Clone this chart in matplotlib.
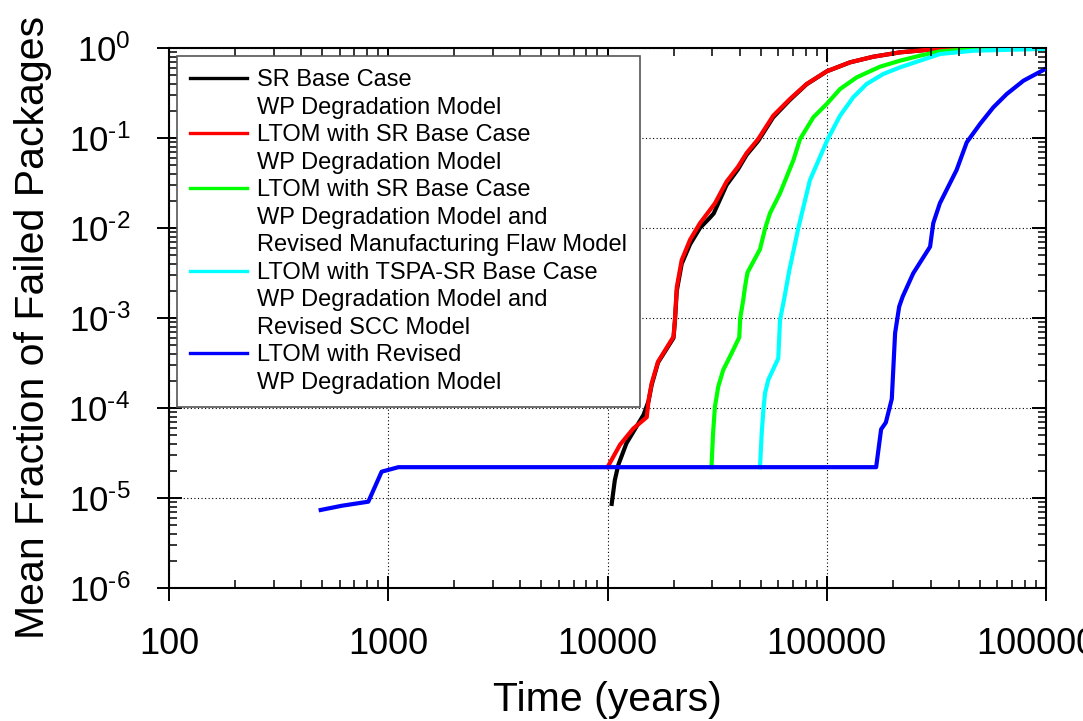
import matplotlib
matplotlib.use("Agg")
import matplotlib.pyplot as plt
from matplotlib.lines import Line2D
from matplotlib.ticker import LogLocator, NullFormatter

plt.rcParams["font.family"] = ["Liberation Sans", "DejaVu Sans"]
plt.rcParams["mathtext.fontset"] = "custom"
plt.rcParams["mathtext.rm"] = "Liberation Sans"
plt.rcParams["mathtext.it"] = "Liberation Sans:italic"
plt.rcParams["mathtext.bf"] = "Liberation Sans:bold"

# ---- data: time (years) vs mean fraction of failed packages ----
t_sr_base = [10450, 10800, 11200, 12200, 14600, 15400, 15900, 17000, 20000, 20300,
             20700, 21800, 23800, 26400, 29300, 30500, 34900, 39400, 43100, 48700,
             57000, 67900, 80900, 100000, 127700, 163000, 216000, 296000, 435000, 700000,
             1000000]
f_sr_base = [8.6e-6, 1.58e-5, 2.33e-5, 4.05e-5, 8.4e-5, 1.2e-4, 1.8e-4, 3.2e-4, 6.0e-4, 9.2e-4,
             2.0e-3, 4.0e-3, 6.6e-3, 1.0e-2, 1.3e-2, 1.45e-2, 3.0e-2, 4.5e-2, 6.5e-2, 9.3e-2,
             0.17, 0.265, 0.395, 0.55, 0.693, 0.80, 0.895, 0.96, 0.99, 1.0,
             1.0]

t_ltom_sr = [10000, 11400, 13100, 15100, 15400, 15900, 17000, 20000, 20300, 20700,
             21800, 23800, 26400, 29300, 30900, 34900, 39400, 43100, 48700, 57000,
             67900, 80900, 100000, 127700, 163000, 216000, 296000, 435000, 700000, 1000000]
f_ltom_sr = [2.2e-5, 3.9e-5, 5.9e-5, 7.9e-5, 1.23e-4, 1.88e-4, 3.27e-4, 6.2e-4, 9.5e-4, 2.2e-3,
             4.4e-3, 7.4e-3, 1.13e-2, 1.58e-2, 1.88e-2, 3.27e-2, 4.8e-2, 6.8e-2, 9.75e-2, 0.177,
             0.271, 0.398, 0.551, 0.693, 0.80, 0.895, 0.96, 0.99, 1.0, 1.0]

t_ltom_mf = [29800, 30300, 30900, 32000, 33700, 36800, 39900, 40300, 41600, 42400,
             43500, 49600, 52300, 55100, 61200, 70500, 75500, 86900, 100000, 115000,
             137000, 175000, 216000, 266000, 329000, 467000, 700000, 1000000]
f_ltom_mf = [2.2e-5, 5.2e-5, 1.03e-4, 1.73e-4, 2.64e-4, 4.05e-4, 6.1e-4, 1.0e-3, 1.58e-3, 2.23e-3,
             3.2e-3, 5.8e-3, 9.8e-3, 1.46e-2, 2.43e-2, 5.7e-2, 0.097, 0.17, 0.239, 0.35,
             0.472, 0.62, 0.723, 0.822, 0.918, 0.975, 0.995, 1.0]

t_ltom_scc = [49600, 50500, 51400, 52300, 54100, 60100, 61200, 63800, 67500, 68500,
              74200, 83800, 101000, 115000, 132000, 152000, 181000, 216000, 266000, 329000,
              467000, 940000, 1000000]
f_ltom_scc = [2.2e-5, 5.2e-5, 9.5e-5, 1.46e-4, 2.05e-4, 3.56e-4, 9.5e-4, 1.58e-3, 3.4e-3, 4.0e-3,
              1.0e-2, 3.4e-2, 0.097, 0.177, 0.283, 0.398, 0.514, 0.61, 0.723, 0.858,
              0.933, 0.975, 0.978]

t_ltom_rev = [492, 614, 811, 933, 1112, 168000, 177000, 186000, 198000, 205000,
              214000, 222000, 248000, 296000, 306000, 328000, 391000, 435000, 500000, 575000,
              662000, 789000, 1000000]
f_ltom_rev = [7.36e-6, 8.2e-6, 9.1e-6, 1.96e-5, 2.2e-5, 2.2e-5, 5.8e-5, 6.9e-5, 1.26e-4, 6.8e-4,
              1.34e-3, 1.73e-3, 3.14e-3, 6.2e-3, 1.13e-2, 1.88e-2, 4.41e-2, 0.0895, 0.143, 0.219,
              0.308, 0.433, 0.59]

series_labels = [
    "SR Base Case\nWP Degradation Model",
    "LTOM with SR Base Case\nWP Degradation Model",
    "LTOM with SR Base Case\nWP Degradation Model and\nRevised Manufacturing Flaw Model",
    "LTOM with TSPA-SR Base Case\nWP Degradation Model and\nRevised SCC Model",
    "LTOM with Revised\nWP Degradation Model",
]
series_colors = ["#000000", "#ff0000", "#00ff00", "#00ffff", "#0000ff"]

x_ticks = [100, 1000, 10000, 100000, 1000000]
x_ticklabels = ["100", "1000", "10000", "100000", "1000000"]
y_ticks = [1e-6, 1e-5, 1e-4, 1e-3, 1e-2, 1e-1, 1e0]
y_exponents = ["-6", "-5", "-4", "-3", "-2", "-1", "0"]
y_ticklabels = [r"$\mathregular{10^{\text{%s}}}$" % e for e in y_exponents]

# ---- figure ----
fig = plt.figure(figsize=(10.83, 7.21), dpi=100)
rect = [169 / 1083, 133 / 721, 877 / 1083, 540 / 721]
ax = fig.add_axes(rect)
ax.set_xscale("log")
ax.set_yscale("log")

series = [(t_sr_base, f_sr_base), (t_ltom_sr, f_ltom_sr), (t_ltom_mf, f_ltom_mf),
          (t_ltom_scc, f_ltom_scc), (t_ltom_rev, f_ltom_rev)]
for (t, f), c in zip(series, series_colors):
    ax.plot(t, f, color=c, lw=3.0, solid_joinstyle="round", zorder=3)

ax.set_xlim(100, 1e6)
ax.set_ylim(1e-6, 1)
ax.set_xticks(x_ticks, x_ticklabels, fontsize=26)
ax.set_yticks(y_ticks, y_ticklabels, fontsize=25)
ax.xaxis.set_minor_locator(LogLocator(base=10, subs=range(2, 10), numticks=20))
ax.yaxis.set_minor_locator(LogLocator(base=10, subs=range(2, 10), numticks=20))
ax.xaxis.set_minor_formatter(NullFormatter())
ax.yaxis.set_minor_formatter(NullFormatter())

ax.tick_params(which="major", direction="inout", length=18, width=1.4,
               top=False, right=False, pad=19)
ax.tick_params(which="minor", direction="in", length=6, width=1.1,
               top=False, right=False)
ax.grid(True, which="major", color="black", lw=0.8, linestyle=(0, (1, 2.2)))
for s in ax.spines.values():
    s.set_linewidth(1.5)

ax.set_ylabel("Mean Fraction of Failed Packages", fontsize=29.5)
ax.yaxis.set_label_coords(-0.133, 0.482)
ax.set_xlabel("Time (years)", fontsize=29.5)
ax.xaxis.set_label_coords(0.5, -0.172)

# overlay axes carrying the inward ticks on the top and right edges
ax2 = fig.add_axes(rect, sharex=ax, sharey=ax, frameon=False)
ax2.patch.set_visible(False)
ax2.tick_params(which="both", direction="in", bottom=False, left=False,
                top=True, right=True, labelbottom=False, labelleft=False,
                labeltop=False, labelright=False)
ax2.tick_params(which="major", length=10, width=1.4)
ax2.tick_params(which="minor", length=6, width=1.1)

# legend: colored handle beside the first line of each entry
handles, labels = [], []
for text, c in zip(series_labels, series_colors):
    parts = text.split("\n")
    handles.append(Line2D([], [], color=c, lw=2.4))
    labels.append(parts[0])
    for p in parts[1:]:
        handles.append(Line2D([], [], color="none"))
        labels.append(p)

leg = ax2.legend(handles, labels, loc="upper left", bbox_to_anchor=(0.0091, 0.9852),
                 borderaxespad=0, fontsize=17, handlelength=2.41, handletextpad=0.42,
                 labelspacing=0.235, borderpad=0.55, fancybox=False, framealpha=1,
                 edgecolor="#555555")
leg.get_frame().set_linewidth(1.2)
leg.set_zorder(10)

fig.savefig("out.png", dpi=100)
